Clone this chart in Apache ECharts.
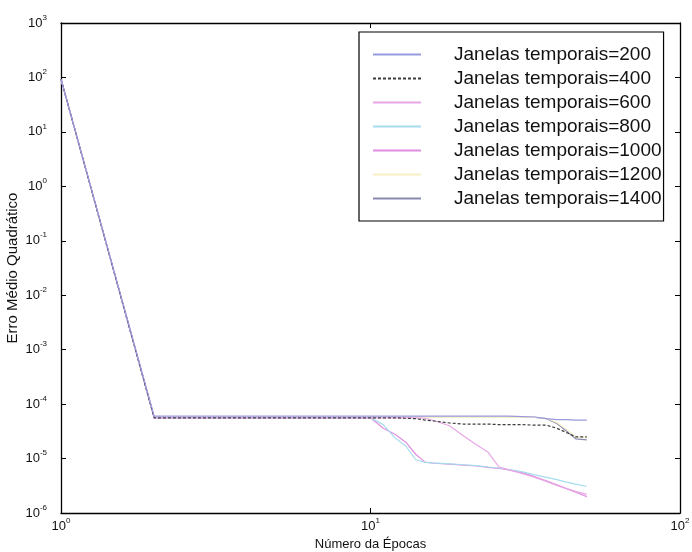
<!DOCTYPE html>
<html>
<head>
<meta charset="utf-8">
<script src="https://cdn.jsdelivr.net/npm/echarts@6/dist/echarts.min.js"></script>
<style>html,body{margin:0;padding:0;background:#fff}#c{width:692px;height:552px}</style>
</head>
<body>
<div id="c"></div>
<script>
const epochs = [1, 2, 10, 11, 12, 13, 14, 15, 16, 18, 20, 22, 24, 26, 28, 31, 34, 37, 40, 43, 46, 50];
const seriesNames = ['Janelas temporais=200','Janelas temporais=400','Janelas temporais=600','Janelas temporais=800','Janelas temporais=1000','Janelas temporais=1200','Janelas temporais=1400'];
const s200  = [93, 6.0e-5, 6.0e-5, 6.0e-5, 6.0e-5, 6.0e-5, 6.0e-5, 6.0e-5, 6.0e-5, 6.0e-5, 6.0e-5, 6.0e-5, 6.0e-5, 6.0e-5, 6.0e-5, 5.9e-5, 5.8e-5, 5.4e-5, 5.2e-5, 5.2e-5, 5.1e-5, 5.1e-5];
const s400  = [93, 5.6e-5, 5.6e-5, 5.6e-5, 5.6e-5, 5.5e-5, 5.4e-5, 5.1e-5, 4.9e-5, 4.5e-5, 4.3e-5, 4.3e-5, 4.3e-5, 4.2e-5, 4.2e-5, 4.2e-5, 4.1e-5, 4.1e-5, 3.6e-5, 3.0e-5, 2.5e-5, 2.5e-5];
const s600  = [93, 5.6e-5, 5.6e-5, 5.6e-5, 5.6e-5, 5.6e-5, 5.6e-5, 5.5e-5, 5.0e-5, 4.0e-5, 2.6e-5, 1.8e-5, 1.3e-5, 7.0e-6, 6.2e-6, 5.3e-6, 4.5e-6, 3.8e-6, 3.2e-6, 2.8e-6, 2.5e-6, 2.2e-6];
const s800  = [93, 5.6e-5, 5.6e-5, 4.2e-5, 2.4e-5, 1.7e-5, 9.5e-6, 8.5e-6, 8.3e-6, 8.0e-6, 7.7e-6, 7.4e-6, 7.0e-6, 6.7e-6, 6.3e-6, 5.7e-6, 5.0e-6, 4.5e-6, 4.1e-6, 3.7e-6, 3.4e-6, 3.1e-6];
const s1000 = [93, 5.6e-5, 5.6e-5, 3.6e-5, 2.8e-5, 2.0e-5, 1.2e-5, 8.6e-6, 8.2e-6, 7.9e-6, 7.6e-6, 7.3e-6, 6.9e-6, 6.6e-6, 6.2e-6, 5.5e-6, 4.6e-6, 3.9e-6, 3.3e-6, 2.8e-6, 2.4e-6, 2.0e-6];
const s1200 = [93, 5.7e-5, 5.7e-5, 5.7e-5, 5.7e-5, 5.7e-5, 5.7e-5, 5.7e-5, 5.7e-5, 5.7e-5, 5.7e-5, 5.7e-5, 5.7e-5, 5.7e-5, 5.7e-5, 5.7e-5, 5.7e-5, 5.5e-5, 4.6e-5, 3.4e-5, 2.5e-5, 2.4e-5];
const s1400 = [93, 5.7e-5, 5.7e-5, 5.7e-5, 5.7e-5, 5.7e-5, 5.7e-5, 5.7e-5, 5.7e-5, 5.7e-5, 5.7e-5, 5.7e-5, 5.7e-5, 5.7e-5, 5.7e-5, 5.7e-5, 5.7e-5, 5.4e-5, 4.4e-5, 3.2e-5, 2.3e-5, 2.2e-5];
const allSeries = [s200, s400, s600, s800, s1000, s1200, s1400];
const colors = ['#9a9ade', '#3c3c3c', '#e8a6e6', '#a6dcec', '#e08ee0', '#f6efc4', '#8a8ab0'];
const dashes = ['solid', [3, 2], 'solid', 'solid', 'solid', 'solid', 'solid'];
const xName = 'Número da Épocas';
const yName = 'Erro Médio Quadrático';

const FONT = '"Liberation Sans", Arial, sans-serif';
function powLabel(v) {
  const e = Math.round(Math.log10(v));
  return '{b|10}{s|' + e + '}';
}
const rich = {
  b: { fontSize: 13, fontFamily: FONT, color: '#111' },
  s: { fontSize: 8, fontFamily: FONT, color: '#111', padding: [0, 0, 11, 0] }
};
const axisLine = { show: true, lineStyle: { color: '#000', width: 1.3 } };

const chart = echarts.init(document.getElementById('c'), null, { renderer: 'canvas' });
chart.setOption({
  animation: false,
  backgroundColor: '#fff',
  grid: { left: 61, right: 12, top: 23, bottom: 39, containLabel: false, outerBoundsMode: 'none' },
  legend: {
    left: 359, top: 32,
    orient: 'vertical',
    data: seriesNames,
    itemWidth: 48, itemHeight: 14, itemGap: 5,
    padding: [13, 2, 13, 13],
    borderColor: '#000', borderWidth: 1.2,
    backgroundColor: '#fff',
    itemStyle: { opacity: 0 },
    textStyle: { fontSize: 19, fontFamily: FONT, color: '#111', padding: [0, 0, 0, 28], lineHeight: 19 }
  },
  xAxis: [
    {
      type: 'log', logBase: 10, min: 1, max: 100, splitNumber: 2,
      position: 'bottom',
      name: xName, nameLocation: 'middle', nameGap: 21,
      nameTextStyle: { fontSize: 13, fontFamily: FONT, color: '#111' },
      axisLine: axisLine,
      axisTick: { show: true, inside: true, length: 5, lineStyle: { color: '#000' } },
      minorTick: { show: false },
      splitLine: { show: false },
      axisLabel: { formatter: powLabel, rich: rich, margin: 4 }
    },
    {
      type: 'log', logBase: 10, min: 1, max: 100, splitNumber: 2,
      position: 'top',
      axisLine: axisLine,
      axisTick: { show: true, inside: true, length: 5, lineStyle: { color: '#000' } },
      splitLine: { show: false },
      axisLabel: { show: false }
    }
  ],
  yAxis: [
    {
      type: 'log', logBase: 10, min: 1e-6, max: 1e3, splitNumber: 9,
      position: 'left',
      name: yName, nameLocation: 'middle', nameGap: 41, nameRotate: 90,
      nameMoveOverlap: false,
      nameTextStyle: { fontSize: 15, fontFamily: FONT, color: '#111' },
      axisLine: axisLine,
      axisTick: { show: true, inside: true, length: 5, lineStyle: { color: '#000' } },
      minorTick: { show: false },
      splitLine: { show: false },
      axisLabel: { formatter: powLabel, rich: rich, margin: 14 }
    },
    {
      type: 'log', logBase: 10, min: 1e-6, max: 1e3, splitNumber: 9,
      position: 'right',
      axisLine: axisLine,
      axisTick: { show: true, inside: true, length: 5, lineStyle: { color: '#000' } },
      splitLine: { show: false },
      axisLabel: { show: false }
    }
  ],
  series: seriesNames.map((n, i) => ({
    name: n,
    type: 'line',
    xAxisIndex: 0, yAxisIndex: 0,
    symbol: 'none',
    z: 10 - i,
    color: colors[i],
    lineStyle: { width: 1.2, color: colors[i], type: dashes[i] },
    data: epochs.map((x, j) => [x, allSeries[i][j]])
  }))
});
</script>
</body>
</html>
